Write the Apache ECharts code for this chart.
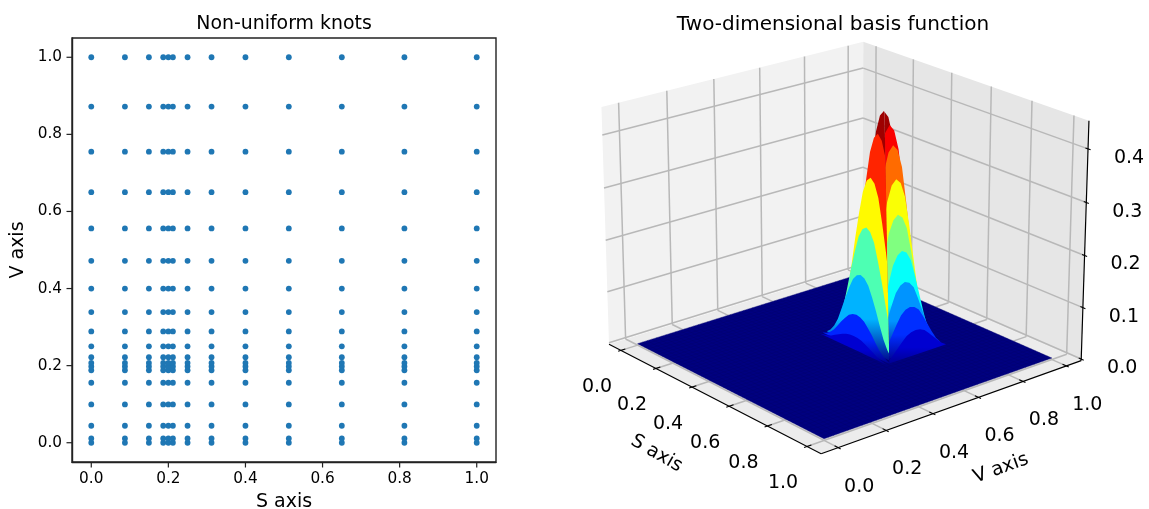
<!DOCTYPE html>
<html><head><meta charset="utf-8">
<style>html,body{margin:0;padding:0;background:#fff}#c{width:1149px;height:509px}</style>
<script src="https://cdn.jsdelivr.net/npm/echarts@6/dist/echarts.min.js"></script>
</head><body><div id="c"></div>
<script>
// ---- left panel data
const sKnots=[0,0.0873,0.1495,0.1867,0.2,0.2118,0.2498,0.312,0.4,0.5125,0.65,0.8124,1];
const vKnots=[0,0.0112,0.044,0.0994,0.1556,0.188,0.198,0.207,0.222,0.25,0.2887,0.339,0.4,0.472,0.556,0.65,0.755,0.872,1];
const tickValues=[0,0.2,0.4,0.6,0.8,1];
const zTickValues=[0,0.1,0.2,0.3,0.4];
// ---- right panel data: peak of the basis function and its profiles
const peakS=0.5125, peakV=0.665, peakZ=0.44;
const sProfileOffsets=[-0.18,-0.16,-0.14,-0.12,-0.1,-0.08,-0.06,-0.04,-0.02,0,0.02,0.04,0.06,0.08,0.1,0.12,0.14,0.16,0.18];
const sProfile=[0,0.05,0.13,0.25,0.42,0.6,0.76,0.9,0.975,1,0.975,0.9,0.76,0.6,0.42,0.25,0.13,0.05,0];
const vProfileOffsets=[-0.14,-0.12,-0.1,-0.08,-0.06,-0.04,-0.02,0,0.02,0.04,0.06,0.08,0.1,0.12,0.14];
const vProfile=[0,0.12,0.3,0.5,0.7,0.88,0.97,1,0.97,0.88,0.7,0.5,0.3,0.12,0];
const leftWallOffsets=[0,0.026,0.057,0.075,0.1,0.118,0.13];
const leftWallHeights=[1,0.91,0.73,0.52,0.32,0.15,0.06];
const leftWallColors=[0.97,0.84,0.63,0.45,0.3,0.16,0.08];
const rightWallOffsets=[0,0.03,0.048,0.065,0.075,0.097,0.113,0.14,0.17];
const rightWallHeights=[1,0.95,0.87,0.73,0.58,0.43,0.3,0.2,0.11];
const rightWallColors=[0.97,0.88,0.77,0.62,0.5,0.38,0.27,0.17,0.08];

// ---- view settings (matplotlib style 3D camera)
const elev=21, azim=-40, dist=10;
const xLim=[-0.07,1.07], yLim=[-0.07,1.07], zLim=[-0.003,0.452];
const scaleK=2860, centerX=843.5, centerY=235;
const P3D={left:560,top:0,w:589,h:509};

const rad=Math.PI/180;
const box=[1.1905,1.1905,0.8929];
const wv=[Math.cos(elev*rad)*Math.cos(azim*rad),Math.cos(elev*rad)*Math.sin(azim*rad),Math.sin(elev*rad)];
const uv=[-Math.sin(azim*rad),Math.cos(azim*rad),0];
const vv=[wv[1]*uv[2]-wv[2]*uv[1],wv[2]*uv[0]-wv[0]*uv[2],wv[0]*uv[1]-wv[1]*uv[0]];
const eye=[box[0]/2+dist*wv[0],box[1]/2+dist*wv[1],box[2]/2+dist*wv[2]];
const dot=(a,b)=>a[0]*b[0]+a[1]*b[1]+a[2]*b[2];
function view(s,v,z){
  const p=[(s-xLim[0])/(xLim[1]-xLim[0])*box[0]-eye[0],(v-yLim[0])/(yLim[1]-yLim[0])*box[1]-eye[1],(z-zLim[0])/(zLim[1]-zLim[0])*box[2]-eye[2]];
  return [dot(p,uv),dot(p,vv),dot(p,wv)];
}
function proj(s,v,z){const q=view(s,v,z);return [q[0]/-q[2],q[1]/-q[2]];}
const clip01=x=>Math.max(0,Math.min(1,x));
function jet(t){
  const r=clip01(1.5-Math.abs(4*t-3)),g=clip01(1.5-Math.abs(4*t-2)),b=clip01(1.5-Math.abs(4*t-1));
  return 'rgb('+Math.round(r*255)+','+Math.round(g*255)+','+Math.round(b*255)+')';
}

// ---- build 3D primitives
const x0=xLim[0],x1=xLim[1],y0=yLim[0],y1=yLim[1],z0=zLim[0],z1=zLim[1];
const polys=[];
const lines=[];
const texts=[];
polys.push({pts:[[x0,y0,z0],[x1,y0,z0],[x1,y1,z0],[x0,y1,z0]],fill:'#ececec'});
polys.push({pts:[[x0,y0,z0],[x0,y1,z0],[x0,y1,z1],[x0,y0,z1]],fill:'#f2f2f2'});
polys.push({pts:[[x0,y1,z0],[x1,y1,z0],[x1,y1,z1],[x0,y1,z1]],fill:'#e6e6e6'});
const gridColor='#b8b8b8';
tickValues.forEach(t=>{
  lines.push({a:[t,y0,z0],b:[t,y1,z0],color:gridColor,w:1.5});
  lines.push({a:[t,y1,z0],b:[t,y1,z1],color:gridColor,w:1.5});
  lines.push({a:[x0,t,z0],b:[x0,t,z1],color:gridColor,w:1.5});
  lines.push({a:[x0,t,z0],b:[x1,t,z0],color:gridColor,w:1.5});
});
zTickValues.forEach(t=>{
  lines.push({a:[x0,y0,t],b:[x0,y1,t],color:gridColor,w:1.5});
  lines.push({a:[x0,y1,t],b:[x1,y1,t],color:gridColor,w:1.5});
});
const planeLines=[];
const planeCells=[];
for(let i=0;i<=50;i++){planeCells.push(i/50);}
planeCells.forEach(t=>{
  planeLines.push({a:[t,0,0],b:[t,1,0]});
  planeLines.push({a:[0,t,0],b:[1,t,0]});
});
// each colour band of the bump is one fold of the surface, painted back to front
function wallFill(colorValue,height){
  const c=jet(colorValue);
  if(height>0.45)return c;
  return new echarts.graphic.LinearGradient(0,0,0,1,[{offset:0,color:c},{offset:0.5,color:c},{offset:1,color:'#00008c'}]);
}
const walls=[];
leftWallOffsets.forEach((d,i)=>{
  const v=peakV-d, pts=[], base=[];
  sProfile.forEach((h,k)=>{
    pts.push([peakS+sProfileOffsets[k],v,peakZ*leftWallHeights[i]*h]);
    base.unshift([peakS+sProfileOffsets[k],v,0]);
  });
  walls.push({pts:pts.concat(base),fill:wallFill(leftWallColors[i],leftWallHeights[i]),side:-1,depth:view(peakS,v,0)[2]});
});
rightWallOffsets.forEach((d,i)=>{
  const s=peakS+d, pts=[], base=[];
  vProfile.forEach((h,k)=>{
    pts.push([s,peakV+vProfileOffsets[k],peakZ*rightWallHeights[i]*h]);
    base.unshift([s,peakV+vProfileOffsets[k],0]);
  });
  walls.push({pts:pts.concat(base),fill:wallFill(rightWallColors[i],rightWallHeights[i]),side:1,depth:view(s,peakV,0)[2]});
});
walls.sort((a,b)=>a.depth-b.depth);
// folds meet on the crease that runs from the peak down to the front of the bump
const creaseTop=[peakS,peakV,peakZ*1.1], creaseBottom=[peakS+0.08,peakV-0.04,0];
function foldClip(api,side){
  const t=api.coord(proj(creaseTop[0],creaseTop[1],creaseTop[2]));
  const b=api.coord(proj(creaseBottom[0],creaseBottom[1],creaseBottom[2]));
  const e=[b[0]+(b[0]-t[0])*0.2,b[1]+(b[1]-t[1])*0.2];
  const far=side*200;
  return {type:'polygon',shape:{points:[t,[t[0]+far,t[1]],[e[0]+far,e[1]],e]}};
}

const axisLines=[
 {a:[x0,y0,z0],b:[x1,y0,z0]},{a:[x1,y0,z0],b:[x1,y1,z0]},{a:[x1,y1,z0],b:[x1,y1,z1]}
];
const axisTicks=[];
tickValues.forEach(t=>{
  axisTicks.push({a:[t,y0+0.018,z0],b:[t,y0-0.012,z0]});
  axisTicks.push({a:[x1-0.018,t,z0],b:[x1+0.012,t,z0]});
});
zTickValues.forEach(t=>axisTicks.push({a:[x1-0.012,y1,t],b:[x1+0.012,y1,t]}));
const tickFont='19px "DejaVu Sans"';
tickValues.forEach(t=>{
  texts.push({p:[t,y0,z0],dx:-24,dy:37,text:t.toFixed(1),font:tickFont,rot:0});
  texts.push({p:[x1,t,z0],dx:21,dy:39,text:t.toFixed(1),font:tickFont,rot:0});
});
zTickValues.forEach(t=>texts.push({p:[x1,y1,t],dx:41,dy:9,text:t.toFixed(1),font:tickFont,rot:0}));
texts.push({p:[0.5,y0,z0],dx:-54,dy:57,text:'S axis',font:'19px "DejaVu Sans"',rot:-30});
texts.push({p:[x1,0.5,z0],dx:45,dy:63,text:'V axis',font:'19px "DejaVu Sans"',rot:20});

// ---- custom series helpers
function poly3(api,pts,style,clip){
  const out=pts.map(p=>api.coord(proj(p[0],p[1],p[2])));
  const el={type:'polygon',shape:{points:out},style:style,silent:true};
  if(clip)el.clipPath=clip;
  return el;
}
function seg3(api,a,b,stroke,w){
  const A=api.coord(proj(a[0],a[1],a[2])),B=api.coord(proj(b[0],b[1],b[2]));
  return {type:'line',shape:{x1:A[0],y1:A[1],x2:B[0],y2:B[1]},style:{stroke:stroke,lineWidth:w,fill:null},silent:true};
}
const idx=a=>a.map((_,i)=>[i,0]);
function custom(name,arr,fn,z){
  return {type:'custom',name:name,xAxisIndex:1,yAxisIndex:1,clip:false,silent:true,animation:false,z:z,
    data:idx(arr),encode:{x:0,y:1},renderItem:(p,api)=>fn(arr[api.value(0)],api)};
}
const scatterData=[];
sKnots.forEach(s=>vKnots.forEach(v=>scatterData.push([s,v])));
const tickLen=5.5;
function leftTick(dim){
  return {type:'custom',name:dim?'vticks':'sticks',xAxisIndex:0,yAxisIndex:0,clip:false,silent:true,animation:false,z:9,
    data:tickValues.map(t=>dim?[-0.05,t]:[t,-0.05]),encode:{x:0,y:1},
    renderItem:(p,api)=>{
      const c=api.coord([api.value(0),api.value(1)]);
      return {type:'line',shape:dim?{x1:c[0]-tickLen,y1:c[1],x2:c[0],y2:c[1]}:{x1:c[0],y1:c[1],x2:c[0],y2:c[1]+tickLen},
        style:{stroke:'#222',lineWidth:1.2,fill:null},silent:true};
    }};
}
const axisCommon={
  type:'value',min:-0.05,max:1.05,splitLine:{show:false},
  axisLine:{show:true,onZero:false,lineStyle:{color:'#222',width:1.4}},
  axisTick:{show:false},
  axisLabel:{show:true,fontFamily:'DejaVu Sans',fontSize:15.3,color:'#000',margin:10,customValues:tickValues,formatter:v=>Number(v).toFixed(1)},
  nameLocation:'middle',nameTextStyle:{fontFamily:'DejaVu Sans',fontSize:19,color:'#000'}
};
const hidden={type:'value',show:false,splitLine:{show:false},scale:true};
const option={
  animation:false,backgroundColor:'#fff',
  title:[
   {text:'Non-uniform knots',left:279,top:10,textAlign:'center',textStyle:{fontFamily:'DejaVu Sans',fontSize:18.9,fontWeight:'normal',color:'#000'}},
   {text:'Two-dimensional basis function',left:828,top:10,textAlign:'center',textStyle:{fontFamily:'DejaVu Sans',fontSize:20,fontWeight:'normal',color:'#000'}}
  ],
  grid:[
   {left:72,top:38,width:424,height:424,show:true,borderColor:'#222',borderWidth:1.4,backgroundColor:'#fff',outerBoundsMode:'none'},
   {left:P3D.left,top:P3D.top,width:P3D.w,height:P3D.h,show:false,outerBoundsMode:'none'}
  ],
  xAxis:[
   Object.assign({},axisCommon,{gridIndex:0,name:'S axis',nameGap:31}),
   Object.assign({},hidden,{gridIndex:1,min:(P3D.left-centerX)/scaleK,max:(P3D.left+P3D.w-centerX)/scaleK})
  ],
  yAxis:[
   Object.assign({},axisCommon,{gridIndex:0,name:'V axis',nameGap:44}),
   Object.assign({},hidden,{gridIndex:1,min:(centerY-P3D.top-P3D.h)/scaleK,max:(centerY-P3D.top)/scaleK})
  ],
  series:[
   {type:'scatter',name:'knots',xAxisIndex:0,yAxisIndex:0,data:scatterData,symbolSize:5.8,itemStyle:{color:'#1f77b4',opacity:1},silent:true},
   leftTick(0),leftTick(1),
   custom('panes',polys,(d,api)=>poly3(api,d.pts,{fill:d.fill}),2),
   custom('gridlines',lines,(d,api)=>seg3(api,d.a,d.b,d.color,d.w),3),
   custom('plane',[{pts:[[0,0,0],[1,0,0],[1,1,0],[0,1,0]]}],(d,api)=>poly3(api,d.pts,{fill:'#000080'}),4),
   custom('planemesh',planeLines,(d,api)=>seg3(api,d.a,d.b,'#00006c',0.4),5),
   custom('surface',walls,(d,api)=>poly3(api,d.pts,{fill:d.fill},foldClip(api,d.side)),6),
   custom('axes',axisLines,(d,api)=>seg3(api,d.a,d.b,'#000',1.2),7),
   custom('ticks',axisTicks,(d,api)=>seg3(api,d.a,d.b,'#000',1.1),7),
   custom('labels',texts,(d,api)=>{
     const c=api.coord(proj(d.p[0],d.p[1],d.p[2]));
     return {type:'text',x:c[0]+d.dx,y:c[1]+d.dy,rotation:d.rot*rad,silent:true,
       style:{text:d.text,font:d.font,fill:'#000',align:'center',verticalAlign:'middle'}};
   },8)
  ]
};
const chart=echarts.init(document.getElementById('c'),null,{renderer:'canvas'});
chart.setOption(option);
</script></body></html>
